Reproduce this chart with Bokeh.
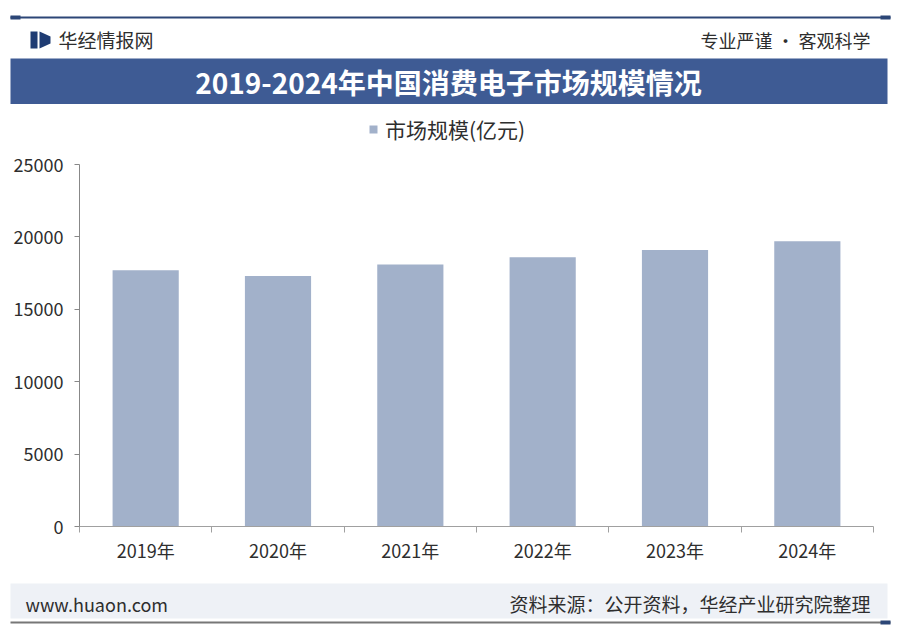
from bokeh.plotting import figure
from bokeh.models import (Range1d, FixedTicker, LinearAxis, Legend, LegendItem,
                          ColumnDataSource, Label)
from bokeh.layouts import column
from bokeh.embed import file_html
from bokeh.resources import INLINE

# ---------------- data ----------------
years = ["2019年", "2020年", "2021年", "2022年", "2023年", "2024年"]
market_size = [17700, 17300, 18100, 18600, 19100, 19700]
y_ticks = [0, 5000, 10000, 15000, 20000, 25000]
series_name = "市场规模(亿元)"
title_text = "2019-2024年中国消费电子市场规模情况"
brand_text = "华经情报网"
slogan_text = "专业严谨 • 客观科学"
site_text = "www.huaon.com"
source_text = "资料来源：公开资料，华经产业研究院整理"

FONT = "Noto Sans CJK SC"
NAVY = "#2c4677"
BANNER = "#3e5b94"
BAR = "#a2b1ca"
TXT = "#2e2e2e"
W = 900

def no_align(f):
    try:
        f.frame_align = False
    except Exception:
        pass
    return f

def blank(h):
    f = figure(width=W, height=h, x_range=Range1d(0, W), y_range=Range1d(0, h),
               output_backend="svg", toolbar_location=None, min_border=0,
               outline_line_color=None, background_fill_color="white",
               border_fill_color="white", x_axis_type=None, y_axis_type=None)
    f.grid.visible = False
    return no_align(f)

# ---------------- header (page y 0..104) ----------------
H1 = 104
hdr = blank(H1)
hdr.segment(x0=[10], y0=[87], x1=[890], y1=[87], line_color=NAVY, line_width=2)
hdr.segment(x0=[10, 880], y0=[87, 87], x1=[20, 890], y1=[87, 87], line_color=NAVY, line_width=4)
hdr.quad(left=[30], right=[37], bottom=[56], top=[73], fill_color="#1f3c73", line_color=None)
hdr.patch(x=[39, 50, 50, 39], y=[73, 68, 61, 56], fill_color="#1f3c73", line_color=None)
hdr.add_layout(Label(x=58, y=65, text=brand_text, text_font=FONT, text_font_size="19px",
                     text_color=TXT, text_baseline="middle"))
hdr.add_layout(Label(x=870, y=65, text=slogan_text, text_font=FONT, text_font_size="18px",
                     text_color=TXT, text_baseline="middle", text_align="right"))
hdr.quad(left=[10], right=[887], bottom=[0], top=[46], fill_color=BANNER, line_color=None)
hdr.add_layout(Label(x=448, y=23, text=title_text, text_font=FONT, text_font_size="28px",
                     text_font_style="bold", text_color="white", text_baseline="middle",
                     text_align="center"))

# ---------------- chart (page y 104..582) ----------------
H2 = 478
TOP_PAD, BOT_PAD = 4, 56          # frame spans page y 108..526
frame_h = H2 - TOP_PAD - BOT_PAD  # 418 px
axis_h = 362                      # px that 0..25000 occupies (page y 164..526)
xs = list(range(len(years)))
src = ColumnDataSource(dict(x=xs, v=market_size, label=years))
p = figure(width=W, height=H2, x_range=Range1d(-0.5, len(years) - 0.5),
           y_range=Range1d(y_ticks[0], y_ticks[-1] * frame_h / axis_h),
           output_backend="svg", toolbar_location=None,
           min_border_left=79, min_border_right=27, min_border_top=TOP_PAD,
           min_border_bottom=BOT_PAD,
           outline_line_color=None, background_fill_color="white", border_fill_color="white",
           x_axis_type=None, y_axis_type=None)
no_align(p)
p.grid.visible = False
r = p.vbar(x="x", top="v", width=0.5, source=src, fill_color=BAR, line_color=None)

xaxis = LinearAxis(ticker=FixedTicker(ticks=xs, minor_ticks=[i - 0.5 for i in range(len(years) + 1)]),
                   major_label_overrides={i: years[i] for i in xs})
xaxis.axis_line_color = "#a0a0a0"
xaxis.major_tick_line_color = None
xaxis.major_tick_out = 0
xaxis.major_tick_in = 0
xaxis.minor_tick_line_color = "#a0a0a0"
xaxis.minor_tick_out = 6
xaxis.minor_tick_in = 0
xaxis.major_label_standoff = 4
xaxis.major_label_text_font = FONT
xaxis.major_label_text_font_size = "18px"
xaxis.major_label_text_color = TXT
p.add_layout(xaxis, "below")

yaxis = LinearAxis(ticker=FixedTicker(ticks=y_ticks, minor_ticks=[]),
                   bounds=(y_ticks[0], y_ticks[-1]))
yaxis.axis_line_color = "#888888"
yaxis.major_tick_line_color = "#888888"
yaxis.major_tick_out = 5
yaxis.major_tick_in = 0
yaxis.minor_tick_line_color = None
yaxis.major_label_standoff = 11
yaxis.major_label_text_font = FONT
yaxis.major_label_text_font_size = "18px"
yaxis.major_label_text_color = TXT
p.add_layout(yaxis, "left")

legend = Legend(items=[LegendItem(label=series_name, renderers=[r])],
                location=(289, 382), orientation="horizontal",
                glyph_width=10, glyph_height=10, label_height=20, label_standoff=7,
                padding=0, margin=0, border_line_color=None, background_fill_alpha=0,
                label_text_font=FONT, label_text_font_size="21px", label_text_color=TXT)
p.add_layout(legend, "center")

# ---------------- footer (page y 582..634) ----------------
H3 = 52
ftr = blank(H3)
ftr.quad(left=[10], right=[887], bottom=[16], top=[51], fill_color="#eef1f6", line_color=None)
ftr.add_layout(Label(x=25, y=31, text=site_text, text_font=FONT, text_font_size="18px",
                     text_color=TXT, text_baseline="middle"))
ftr.add_layout(Label(x=870, y=31, text=source_text, text_font=FONT, text_font_size="19px",
                     text_color=TXT, text_baseline="middle", text_align="right"))
ftr.segment(x0=[10], y0=[12], x1=[890], y1=[12], line_color="#777777", line_width=2)
ftr.segment(x0=[880], y0=[12], x1=[890], y1=[12], line_color=NAVY, line_width=4)

layout = column(hdr, p, ftr, spacing=0)
open("out.html", "w").write(file_html(layout, INLINE))
